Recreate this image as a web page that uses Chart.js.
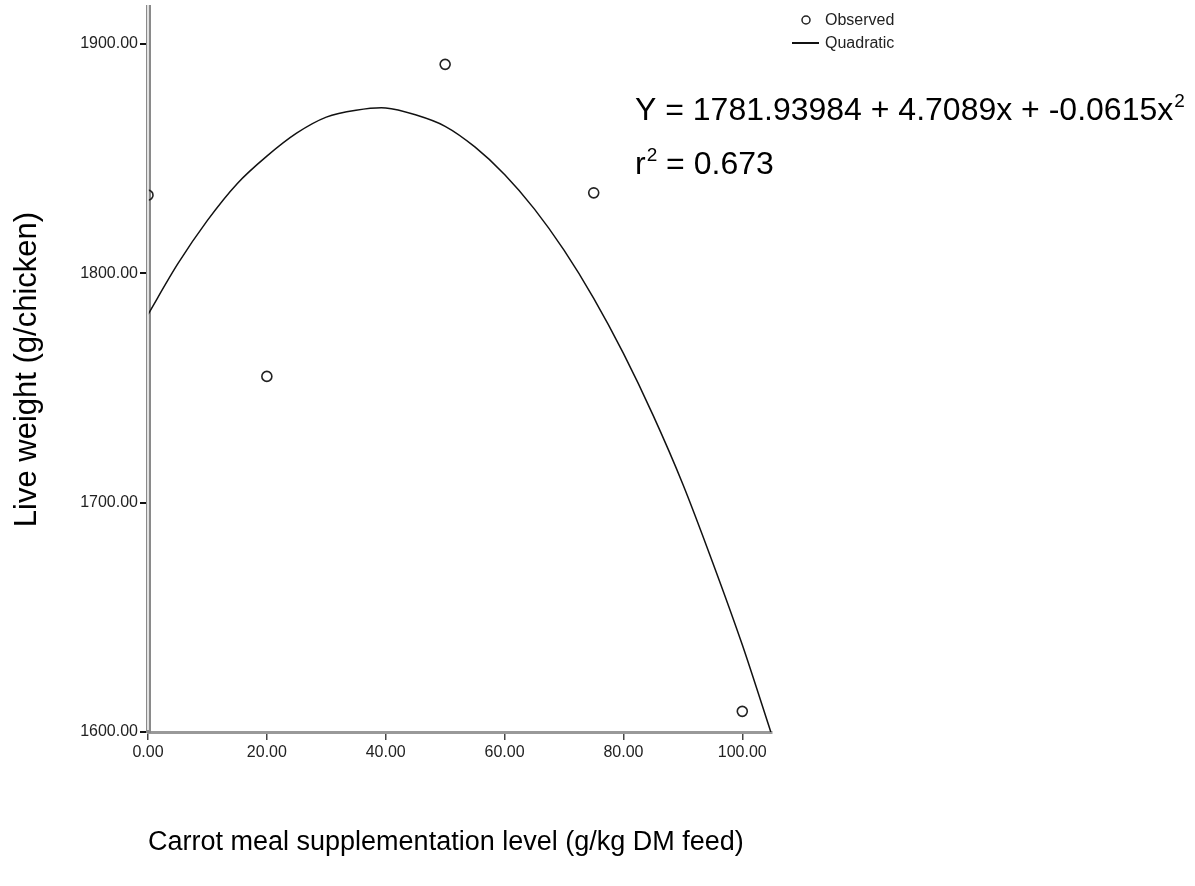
<!DOCTYPE html>
<html>
<head>
<meta charset="utf-8">
<script src="https://cdn.jsdelivr.net/npm/chart.js@4.4.1/dist/chart.umd.min.js"></script>
<style>
html, body { margin: 0; padding: 0; background: #fff; }
canvas { display: block; }
</style>
</head>
<body>
<canvas id="liveWeightChart" width="1195" height="886"></canvas>
<script>
// observed means
var observedLevels = [0, 20, 50, 75, 100];
var observedWeights = [1834, 1755, 1891, 1835, 1609];
// quadratic fit line
var curveLevels = [0, 5, 10, 15, 20, 25, 30, 35, 40, 45, 50, 55, 60, 65, 70, 75, 80, 85, 90, 95, 100, 104.8];
var curveWeights = [1782, 1804, 1823, 1839, 1851, 1861, 1868, 1871, 1872, 1869, 1864, 1855, 1843, 1828, 1810, 1789, 1765, 1738, 1708, 1674, 1638, 1600];
// axes
var xTicks = [0, 20, 40, 60, 80, 100];
var yTicks = [1600, 1700, 1800, 1900];
var xTitle = "Carrot meal supplementation level (g/kg DM feed)";
var yTitle = "Live weight (g/chicken)";
var equationText = "Y = 1781.93984 + 4.7089x + -0.0615x";
var rSquaredText = " = 0.673";

var FONT = "'Liberation Sans', Arial, sans-serif";

function toPoints(xs, ys) {
    var pts = [];
    for (var i in xs) {
        pts.push({x: xs[i], y: ys[i]});
    }
    return pts;
}

//double line on the y axis + legend + equation
var extrasPlugin = {
    id: "extras",
    afterDraw: function (chart) {
        var ctx = chart.ctx;
        var area = chart.chartArea;
        ctx.save();
        ctx.strokeStyle = "#fff";
        ctx.lineWidth = 1.5;
        ctx.beginPath();
        ctx.moveTo(area.left, area.top - 2);
        ctx.lineTo(area.left, area.bottom - 2);
        ctx.stroke();

        // legend
        var ds = chart.data.datasets;
        ctx.font = "16px " + FONT;
        ctx.fillStyle = "#222";
        ctx.textBaseline = "middle";
        ctx.strokeStyle = ds[0].borderColor;
        ctx.lineWidth = 1.5;
        ctx.beginPath();
        ctx.arc(806, 20, 4, 0, Math.PI * 2);
        ctx.stroke();
        ctx.fillText(ds[0].label, 825, 21);
        ctx.strokeStyle = ds[1].borderColor;
        ctx.lineWidth = 2;
        ctx.beginPath();
        ctx.moveTo(792, 43);
        ctx.lineTo(819, 43);
        ctx.stroke();
        ctx.fillText(ds[1].label, 825, 44);

        // equation text
        ctx.fillStyle = "#000";
        ctx.textBaseline = "alphabetic";
        ctx.font = "32px " + FONT;
        ctx.fillText(equationText, 635, 120);
        var w = ctx.measureText(equationText).width;
        ctx.fillText("r", 635, 174);
        var rw = ctx.measureText("r").width;
        ctx.font = "19px " + FONT;
        ctx.fillText("2", 635 + w + 1, 107);
        ctx.fillText("2", 635 + rw + 1, 161);
        var sw = ctx.measureText("2").width;
        ctx.font = "32px " + FONT;
        ctx.fillText(rSquaredText, 635 + rw + sw + 1, 174);
        ctx.restore();
    }
};

var chart = new Chart(document.getElementById("liveWeightChart").getContext("2d"), {
    type: "scatter",
    plugins: [extrasPlugin],
    data: {
        datasets: [
            {
                label: "Observed",
                data: toPoints(observedLevels, observedWeights),
                borderColor: "#222",
                backgroundColor: "rgba(0,0,0,0)",
                pointRadius: 5,
                pointBorderWidth: 1.6,
                showLine: false,
            },
            {
                label: "Quadratic",
                data: toPoints(curveLevels, curveWeights),
                borderColor: "#111",
                borderWidth: 1.5,
                pointRadius: 0,
                showLine: true,
                tension: 0.3,
            }
        ],
    },
    options: {
        responsive: false,
        animation: false,
        layout: {padding: {left: 0, top: 7, right: 423, bottom: 0}},
        plugins: {
            legend: {display: false},
            tooltip: {enabled: false},
        },
        scales: {
            x: {
                type: "linear",
                min: 0,
                max: 105,
                afterBuildTicks: function (scale) {
                    scale.ticks = xTicks.map(function (v) { return {value: v}; });
                },
                afterFit: function (scale) {
                    scale.height = 886 - 732;
                    scale.paddingLeft = 0;
                    scale.paddingRight = 0;
                },
                ticks: {
                    color: "#222",
                    font: {family: FONT, size: 16},
                    padding: 3,
                    maxRotation: 0,
                    callback: function (v) { return v.toFixed(2); },
                },
                grid: {drawOnChartArea: false, drawTicks: true, tickLength: 8, tickColor: "#444", lineWidth: 1.5},
                border: {display: true, color: "#999", width: 3},
                title: {
                    display: true,
                    text: xTitle,
                    align: "start",
                    color: "#000",
                    font: {family: FONT, size: 27},
                    padding: {top: 0, bottom: 27},
                },
            },
            y: {
                type: "linear",
                min: 1600,
                max: 1916,
                afterBuildTicks: function (scale) {
                    scale.ticks = yTicks.map(function (v) { return {value: v}; });
                },
                afterFit: function (scale) {
                    scale.width = 148;
                    scale.paddingTop = 0;
                    scale.paddingBottom = 0;
                },
                ticks: {
                    color: "#222",
                    font: {family: FONT, size: 16},
                    padding: 2,
                    callback: function (v) { return v.toFixed(2); },
                },
                grid: {drawOnChartArea: false, drawTicks: true, tickLength: 8, tickColor: "#111", lineWidth: 2},
                border: {display: true, color: "#8a8a8a", width: 5},
                title: {
                    display: true,
                    text: yTitle,
                    color: "#000",
                    font: {family: FONT, size: 31},
                    padding: {top: 9, bottom: 0},
                },
            },
        },
    },
});
</script>
</body>
</html>
